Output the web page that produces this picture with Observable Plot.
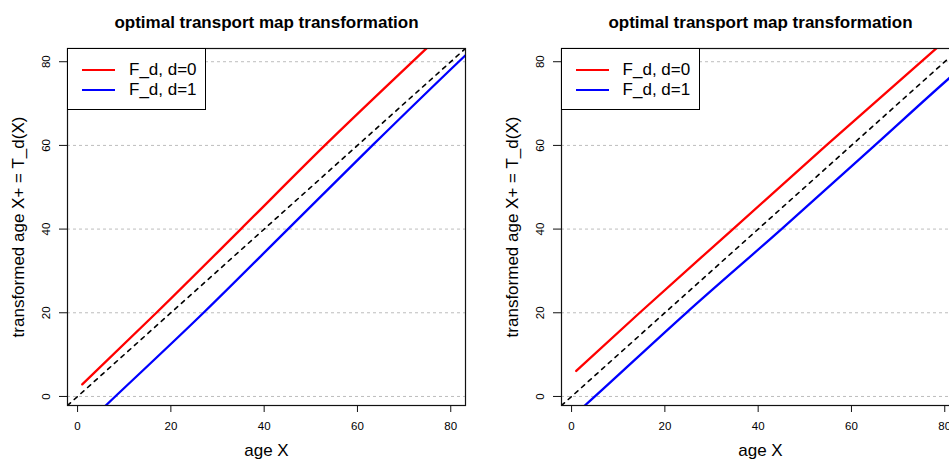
<!DOCTYPE html>
<html><head><meta charset="utf-8">
<script src="https://cdn.jsdelivr.net/npm/d3@7"></script>
<script src="https://cdn.jsdelivr.net/npm/@observablehq/plot@0.6"></script>
<style>
body{margin:0;background:#fff;}
#wrap{position:relative;width:949px;height:460px;overflow:hidden;background:#fff;font-family:"Liberation Sans",Arial,sans-serif;}
.panel{position:absolute;top:0;width:494px;height:460px;}
.legend{position:absolute;left:67px;top:48px;width:139px;height:62px;border:1px solid #000;background:#fff;box-sizing:border-box;}
.legend .row{position:absolute;left:0;height:20px;}
.legend .sw{position:absolute;left:14px;width:33px;height:2px;}
.legend .lab{position:absolute;left:61px;font-size:17px;line-height:20px;white-space:nowrap;color:#000;}
</style>
</head><body>
<div id="wrap"></div>
<script>
// ---- data ----
const title = "optimal transport map transformation";
const xLabel = "age X";
const yLabel = "transformed age X+ = T_d(X)";
const legendLabels = ["F_d, d=0", "F_d, d=1"];
const seriesColors = ["#ff0000", "#0000ff"];
const xTicks = [0, 20, 40, 60, 80];
const yTicks = [0, 20, 40, 60, 80];
const dataRange = [1, 80];

// left panel
const leftRedX  = [1, 16.9, 35, 53, 74.8, 85];
const leftRedY  = [2.9, 20, 40, 60, 83.2, 94];
const leftBlueX = [1, 6.1, 27.0, 45.1, 63.2, 81.7, 85];
const leftBlueY = [-7.5, -2.1, 20, 40, 60, 80, 83.5];
// right panel
const rightRedX  = [1, 14.6, 34.6, 54.6, 78.2, 85];
const rightRedY  = [6.1, 20, 40, 60, 83.2, 89.8];
const rightBlueX = [1, 2.9, 24.6, 45, 65, 81.2, 85];
const rightBlueY = [-4, -2.1, 20, 40, 60, 76.3, 80];

// ---- build ----
const ext = 0.04 * (dataRange[1] - dataRange[0]);
const domain = [dataRange[0] - ext, dataRange[1] + ext];
const FONT = '"Liberation Sans", Arial, sans-serif';
const zip = (xs, ys) => xs.map((x, i) => ({x, y: ys[i]}));

function panel(redX, redY, blueX, blueY) {
  const red = zip(redX, redY), blue = zip(blueX, blueY);
  const ident = domain.map(v => ({x: v, y: v}));
  return Plot.plot({
    width: 494, height: 460,
    marginLeft: 67, marginRight: 29, marginTop: 48, marginBottom: 55,
    x: {domain, ticks: xTicks},
    y: {domain, ticks: yTicks},
    style: {fontFamily: FONT, background: "white", color: "black", overflow: "visible"},
    marks: [
      Plot.ruleY(yTicks, {y: d => d, stroke: "#bdbdbd", strokeWidth: 1, strokeDasharray: "3,3"}),
      Plot.line(ident, {x: "x", y: "y", stroke: "black", strokeWidth: 1.6, strokeDasharray: "4,5", clip: true}),
      Plot.line(red, {x: "x", y: "y", stroke: seriesColors[0], strokeWidth: 2.3, curve: "monotone-x", clip: true}),
      Plot.line(blue, {x: "x", y: "y", stroke: seriesColors[1], strokeWidth: 2.3, curve: "monotone-x", clip: true}),
      Plot.frame({stroke: "#111", strokeWidth: 1.2}),
      Plot.axisX({ticks: xTicks, tickSize: 7, tickPadding: 9, fontSize: 11.5, label: null, stroke: "#111"}),
      Plot.axisY({ticks: yTicks, tickSize: 8, tickFormat: () => "", label: null, stroke: "#111"}),
      Plot.text(yTicks, {y: d => d, text: d => String(d), frameAnchor: "left", textAnchor: "middle", dx: -21, rotate: -90, fontSize: 11.5}),
      Plot.text([title], {frameAnchor: "top", textAnchor: "middle", dy: -33, fontSize: 17, fontWeight: "bold"}),
      Plot.text([xLabel], {frameAnchor: "bottom", textAnchor: "middle", dy: 50, fontSize: 17}),
      Plot.text([yLabel], {frameAnchor: "left", textAnchor: "middle", dx: -48.5, rotate: -90, fontSize: 17})
    ]
  });
}

function legend() {
  const lg = document.createElement("div");
  lg.className = "legend";
  legendLabels.forEach((lab, i) => {
    const row = document.createElement("div");
    row.className = "row";
    row.style.top = (11 + i * 20.3) + "px";
    const sw = document.createElement("div");
    sw.className = "sw";
    sw.style.top = "9px";
    sw.style.background = seriesColors[i];
    const t = document.createElement("div");
    t.className = "lab";
    t.textContent = lab;
    row.appendChild(sw); row.appendChild(t);
    lg.appendChild(row);
  });
  return lg;
}

const wrap = document.getElementById("wrap");
[[leftRedX, leftRedY, leftBlueX, leftBlueY, 0],
 [rightRedX, rightRedY, rightBlueX, rightBlueY, 493.6]].forEach(([rx, ry, bx, by, left]) => {
  const div = document.createElement("div");
  div.className = "panel";
  div.style.left = left + "px";
  div.appendChild(panel(rx, ry, bx, by));
  div.appendChild(legend());
  wrap.appendChild(div);
});
</script>
</body></html>
